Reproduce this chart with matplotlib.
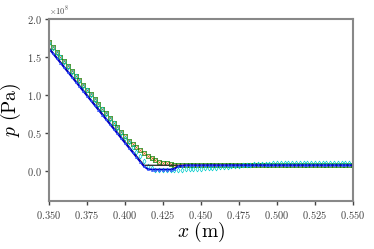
import matplotlib
matplotlib.use("Agg")
import matplotlib.pyplot as plt
import numpy as np
from matplotlib.ticker import ScalarFormatter, MultipleLocator

plt.rcParams['mathtext.fontset'] = 'cm'
plt.rcParams['font.family'] = 'serif'
plt.rcParams['font.serif'] = ['cmr10', 'DejaVu Serif']
plt.rcParams['axes.formatter.use_mathtext'] = True

# sample points (every 0.0025 m)
x = np.linspace(0.35, 0.55, 81)

# exact solution breakpoints
x_exact = [0.35, 0.4125, 0.55]
p_exact = [1.62, 0.075, 0.075]

p_blue = [1.61, 1.548, 1.486, 1.424, 1.362, 1.30, 1.238, 1.176, 1.114, 1.052,
          0.99, 0.928, 0.866, 0.804, 0.742, 0.68, 0.618, 0.556, 0.494, 0.432,
          0.37, 0.308, 0.246, 0.184, 0.122, 0.06, 0.025, 0.02, 0.02, 0.02,
          0.02, 0.02, 0.02, 0.03, 0.06, 0.07, 0.075, 0.075, 0.075, 0.075,
          0.075, 0.076, 0.076, 0.076, 0.076, 0.076, 0.076, 0.076, 0.076, 0.076,
          0.076, 0.076, 0.076, 0.076, 0.076, 0.076, 0.076, 0.076, 0.076, 0.076,
          0.076, 0.076, 0.076, 0.076, 0.076, 0.076, 0.076, 0.076, 0.076, 0.076,
          0.076, 0.076, 0.076, 0.076, 0.076, 0.076, 0.076, 0.076, 0.076, 0.076,
          0.076]

p_green = [1.69, 1.628, 1.566, 1.504, 1.442, 1.38, 1.318, 1.256, 1.194, 1.132,
           1.07, 1.008, 0.946, 0.884, 0.822, 0.76, 0.698, 0.636, 0.574, 0.512,
           0.455, 0.40, 0.355, 0.31, 0.27, 0.235, 0.20, 0.17, 0.145, 0.125,
           0.11, 0.10, 0.09, 0.085, 0.082, 0.08, 0.08, 0.08, 0.08, 0.08,
           0.08, 0.08, 0.08, 0.08, 0.08, 0.08, 0.08, 0.08, 0.08, 0.08,
           0.08, 0.08, 0.08, 0.08, 0.08, 0.08, 0.08, 0.08, 0.08, 0.08,
           0.08, 0.08, 0.08, 0.08, 0.08, 0.08, 0.08, 0.08, 0.08, 0.08,
           0.08, 0.08, 0.08, 0.08, 0.08, 0.08, 0.08, 0.08, 0.08, 0.08,
           0.08]

p_cyan = [1.68, 1.618, 1.556, 1.494, 1.432, 1.37, 1.308, 1.246, 1.184, 1.122,
          1.06, 0.998, 0.936, 0.874, 0.812, 0.75, 0.688, 0.626, 0.564, 0.502,
          0.44, 0.378, 0.316, 0.254, 0.20, 0.13, 0.06, 0.035, 0.02, 0.02,
          0.02, 0.02, 0.02, 0.02, 0.02, 0.02, 0.022, 0.024, 0.026, 0.029,
          0.032, 0.035, 0.038, 0.042, 0.046, 0.05, 0.054, 0.058, 0.062, 0.066,
          0.07, 0.074, 0.078, 0.082, 0.086, 0.09, 0.093, 0.096, 0.098, 0.10,
          0.10, 0.10, 0.10, 0.10, 0.10, 0.10, 0.10, 0.10, 0.10, 0.10,
          0.10, 0.10, 0.10, 0.10, 0.10, 0.10, 0.10, 0.10, 0.10, 0.10,
          0.10]

scale = 1e8

fig = plt.figure(figsize=(3.74, 2.49), dpi=100)
ax = fig.add_axes([0.131, 0.191, 0.813, 0.733])

ax.plot(x, np.array(p_green) * scale, 'x', color='#d2691e', ms=2.2, mew=0.5)
ax.plot(x, np.array(p_green) * scale, 's', color='green', mfc='none', ms=2.5, mew=0.5)
ax.plot(x, np.array(p_cyan) * scale, 'd', color='#00cccc', mfc='none', ms=2.5, mew=0.5)
ax.plot(x_exact, np.array(p_exact) * scale, '-', color='#333333', lw=1.0)
ax.plot(x, np.array(p_blue) * scale, '-', color='#0000cc', lw=1.3)
ax.plot(x, np.array(p_blue) * scale, '^', color='#3355ff', ms=1.8, mew=0.2)

ax.set_xlim(0.35, 0.55)
ax.set_ylim(-0.4e8, 2.0e8)
ax.xaxis.set_major_locator(MultipleLocator(0.025))
ax.yaxis.set_major_locator(MultipleLocator(0.5e8))
fmt = ScalarFormatter(useMathText=True)
fmt.set_powerlimits((0, 0))
ax.yaxis.set_major_formatter(fmt)
ax.yaxis.get_offset_text().set_fontsize(6)

ax.set_xlabel(r'$x\ \mathrm{(m)}$', fontsize=14)
ax.set_ylabel(r'$p\ \mathrm{(Pa)}$', fontsize=14)
ax.yaxis.set_label_coords(-0.085, 0.5)
ax.xaxis.set_label_coords(0.5, -0.1)

for s in ax.spines.values():
    s.set_color('#888888')
    s.set_linewidth(1.5)
ax.tick_params(labelsize=7.5, colors='#444444', length=3, width=1, pad=2.5)

fig.savefig('out.png', dpi=100)
